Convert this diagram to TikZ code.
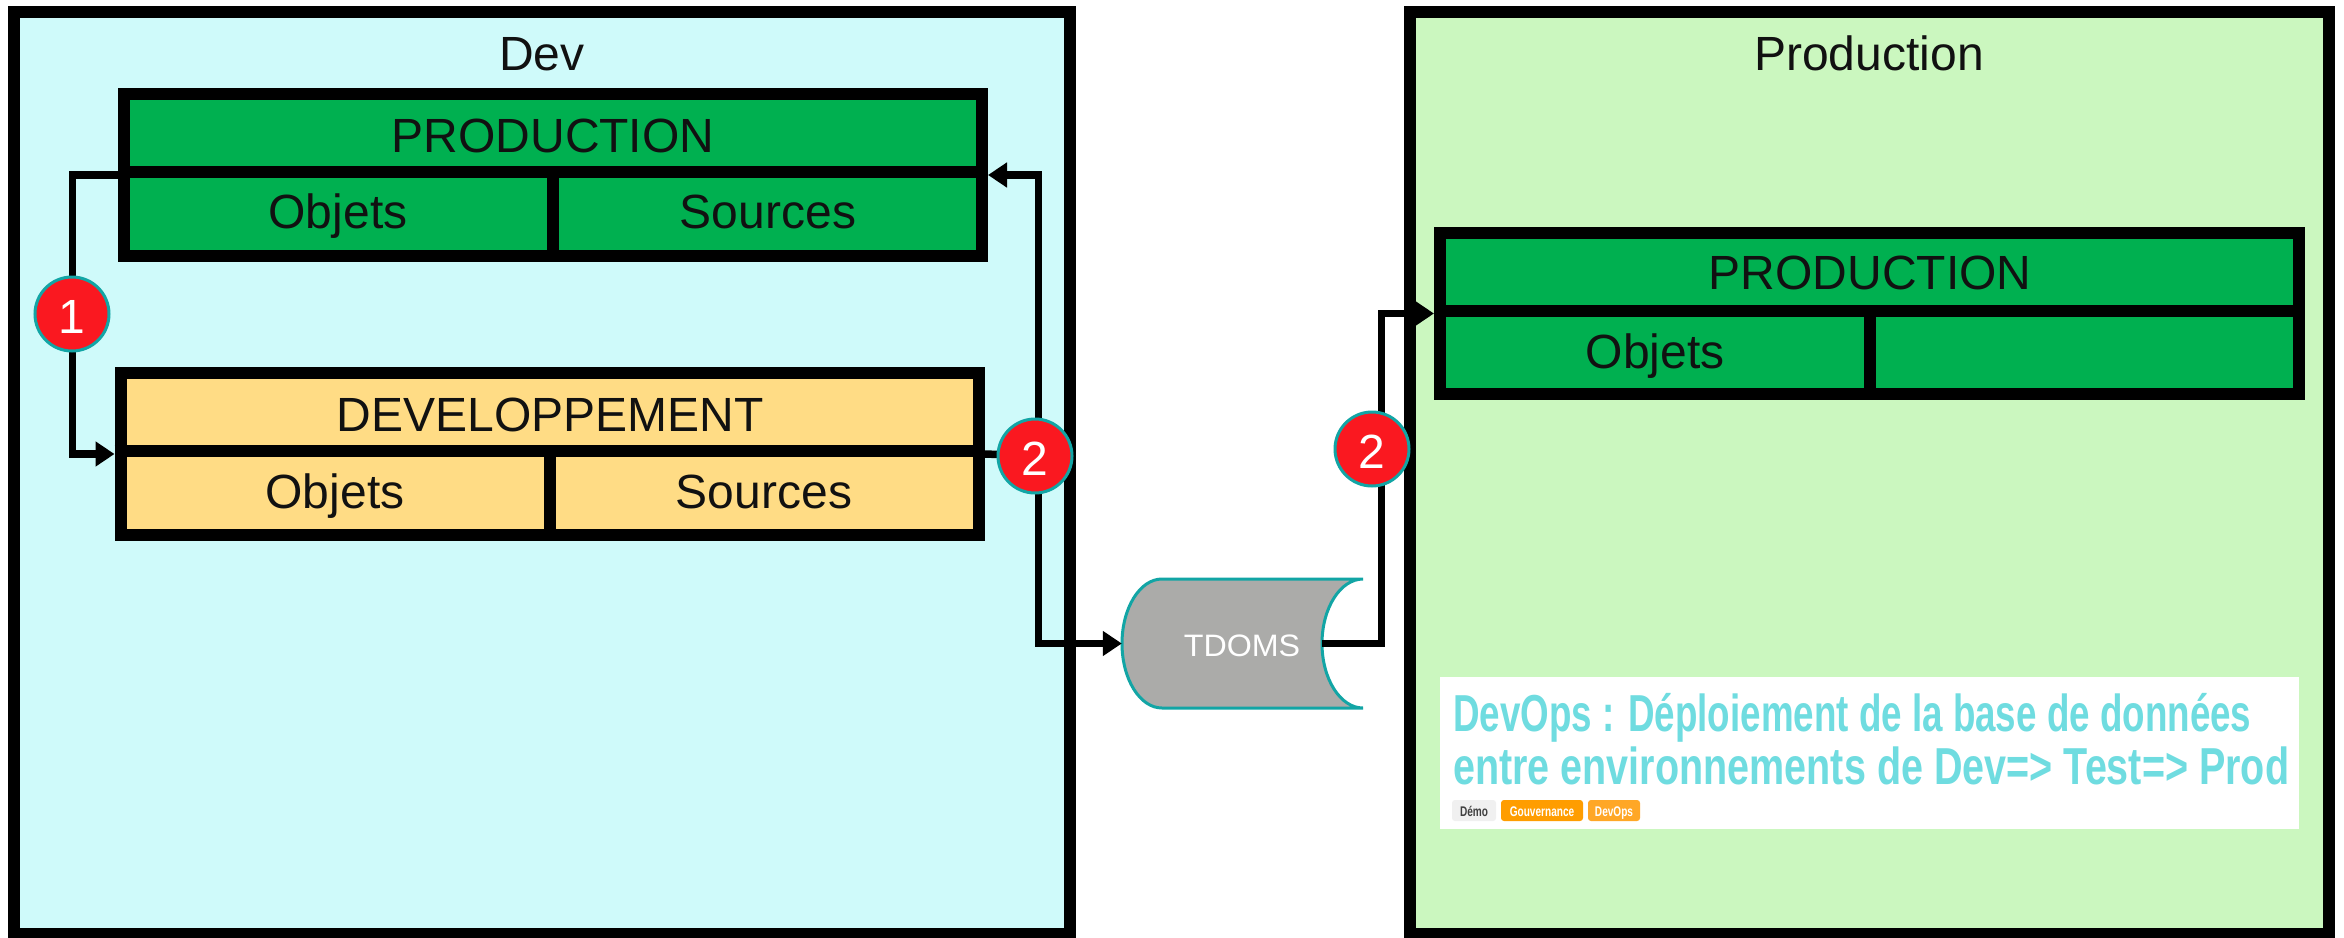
\documentclass[tikz,border=0pt]{standalone}
\usepackage{fontspec}
\setmainfont{Liberation Sans}
\newfontfamily\widefont[FakeStretch=1.04]{Liberation Sans}
\newfontfamily\condfonta[FakeStretch=0.707]{Liberation Sans Bold}
\newfontfamily\condfontb[FakeStretch=0.760]{Liberation Sans Bold}
\newfontfamily\tagfont[FakeStretch=0.72]{Liberation Sans Bold}
\usetikzlibrary{arrows.meta}
\definecolor{devbg}{HTML}{CFFAFA}
\definecolor{prodbg}{HTML}{CBF7BF}
\definecolor{boxgreen}{HTML}{00B050}
\definecolor{boxyellow}{HTML}{FFDC85}
\definecolor{tealline}{HTML}{12A5A5}
\definecolor{badgered}{HTML}{FA1820}
\definecolor{cylgrey}{HTML}{ABABA9}
\definecolor{titlecyan}{HTML}{6FDCE0}
\definecolor{inktext}{HTML}{111111}
\definecolor{tagone}{HTML}{F0F0F0}
\definecolor{tagtwo}{HTML}{FF9D00}
\definecolor{tagthree}{HTML}{FFA726}
\tikzset{
  frame/.style={draw=black,line width=12pt,rectangle,minimum width=#1,minimum height=922pt,inner sep=0pt},
  panel/.style={draw=black,line width=12pt,rectangle,minimum height=162pt,inner sep=0pt},
  divider/.style={black,line width=12pt},
  link/.style={black,line width=7.5pt,miter limit=10},
  linkarrow/.style={link,-{Triangle[length=19pt,width=24pt]}},
  badge/.style={circle,fill=badgered,draw=tealline,line width=3pt,minimum size=74pt,inner sep=0pt,
    text=white,font=\fontsize{48}{48}\selectfont,text height=39pt,text depth=0pt},
  label/.style={anchor=base,inner sep=0pt,text=inktext,font=\fontsize{48}{48}\selectfont},
  headline/.style={anchor=base west,inner sep=0pt,text=titlecyan},
  tagbox/.style={rectangle,rounded corners=3pt,minimum height=21pt,inner sep=0pt,text height=11pt,text depth=0pt,font=\tagfont\fontsize{14}{14}\selectfont}
}
\begin{document}
\begin{tikzpicture}[x=1pt,y=-1pt]
\useasboundingbox (0,0) rectangle (2344,937);
\clip (0,0) rectangle (2344,937);
\fill[white] (0,0) rectangle (2344,937);

% environments
\node[frame=1055.4pt,fill=devbg] (dev) at (542,473) {};
\node[frame=919pt,fill=prodbg] (prod) at (1869.5,473) {};
\node[label] (devtitle) at (542,70) {Dev};
\node[label] (prodtitle) at (1869,70) {Production};

% panel PRODUCTION in Dev
\node[panel,minimum width=858pt,fill=boxgreen] (devprod) at (553,175) {};
\draw[divider] ([yshift=3pt]devprod.west) -- ([yshift=3pt]devprod.east);
\draw[divider] (553,172) -- (553,262);
\node[label] (dpt) at (553,152) {PRODUCTION};
\node[label] (dpo) at (338,228) {Objets};
\node[label] (dps) at (768,228) {Sources};

% panel DEVELOPPEMENT
\node[panel,minimum width=858.5pt,fill=boxyellow] (devdev) at (549.75,454) {};
\draw[divider] ([yshift=3pt]devdev.west) -- ([yshift=3pt]devdev.east);
\draw[divider] (550,451) -- (550,541);
\node[label] (ddt) at (550,431) {DEVELOPPEMENT};
\node[label] (ddo) at (335,508) {Objets};
\node[label] (dds) at (764,508) {Sources};

% panel PRODUCTION in Production
\node[panel,minimum width=859pt,minimum height=161pt,fill=boxgreen] (prodprod) at (1869.5,313.5) {};
\draw[divider] ([yshift=3pt]prodprod.west) -- ([yshift=3pt]prodprod.east);
\draw[divider] (1870,310) -- (1870,400);
\node[label] (ppt) at (1870,289) {PRODUCTION};
\node[label] (ppo) at (1655,368) {Objets};

% tdoms
\node[rectangle,minimum width=241pt,minimum height=129pt,inner sep=0pt] (tdoms) at (1242.5,643.5) {};
\draw[draw=tealline,fill=cylgrey,line width=3pt]
  (1162,579) -- (1363,579)
  .. controls (1340.4,579) and (1322,607.9) .. (1322,643.5)
  .. controls (1322,679.1) and (1340.4,708) .. (1363,708)
  -- (1162,708)
  .. controls (1139.9,708) and (1122,679.1) .. (1122,643.5)
  .. controls (1122,607.9) and (1139.9,579) .. (1162,579) -- cycle;
\node[anchor=base,inner sep=0pt,text=white,font=\widefont\fontsize{31}{31}\selectfont] (tdomstext) at (1242,656) {TDOMS};

% junction points
\coordinate (j1) at (72.5,314);
\coordinate (j2) at (1038.5,456);
\coordinate (j3) at (1381.5,449);
\coordinate (tdomsout) at (1322,643.5);

% connectors
\draw[linkarrow] (devprod.west) -| (j1) |- (devdev.west);
\draw[link] (devdev.east) -- (j2);
\draw[linkarrow] (j2) |- (devprod.east);
\draw[linkarrow] (j2) |- (tdoms.west);
\draw[linkarrow] (tdomsout) -| (j3) |- (prodprod.west);

% badges
\node[badge] (b1) at (72,314) {1};
\node[badge] (b2) at (1035,456) {2};
\node[badge] (b3) at (1372,449) {2};

% white caption
\node[rectangle,fill=white,minimum width=859pt,minimum height=152pt,inner sep=0pt] (caption) at (1869.5,753) {};
\node[headline,font=\condfonta\fontsize{52}{52}\selectfont] (h1) at (1453,731) {DevOps : Déploiement de la base de données};
\node[headline,font=\condfontb\fontsize{52}{52}\selectfont] (h2) at (1453,784) {entre environnements de Dev=> Test=> Prod};
\node[tagbox,fill=tagone,text=black!75,minimum width=44pt] (t1) at (1474,810.5) {Démo};
\node[tagbox,fill=tagtwo,text=white,minimum width=82pt] (t2) at (1542,810.5) {Gouvernance};
\node[tagbox,fill=tagthree,text=white,minimum width=52pt] (t3) at (1614,810.5) {DevOps};
\end{tikzpicture}
\end{document}
